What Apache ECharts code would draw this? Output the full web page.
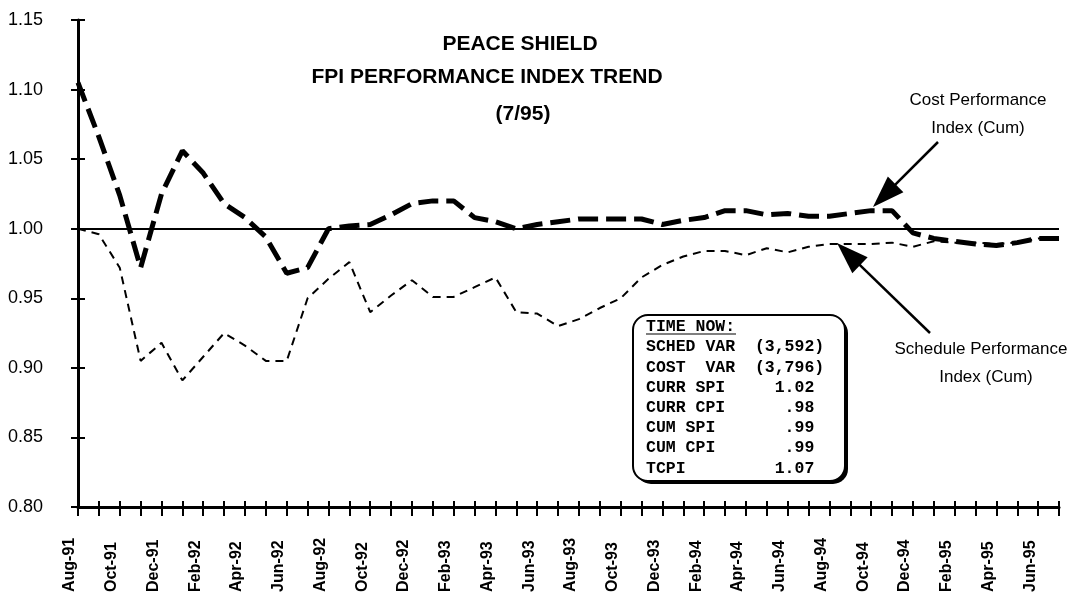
<!DOCTYPE html>
<html>
<head>
<meta charset="utf-8">
<script src="https://cdn.jsdelivr.net/npm/echarts@6.0.0/dist/echarts.min.js"></script>
<style>
  html, body { margin: 0; padding: 0; background: #fff; }
  #chart { width: 1073px; height: 601px; }
</style>
</head>
<body>
<div id="chart"></div>
<script>
const months = [
  'Aug-91', 'Sep-91', 'Oct-91', 'Nov-91', 'Dec-91',
  'Jan-92', 'Feb-92', 'Mar-92', 'Apr-92', 'May-92', 'Jun-92', 'Jul-92', 'Aug-92', 'Sep-92', 'Oct-92', 'Nov-92', 'Dec-92',
  'Jan-93', 'Feb-93', 'Mar-93', 'Apr-93', 'May-93', 'Jun-93', 'Jul-93', 'Aug-93', 'Sep-93', 'Oct-93', 'Nov-93', 'Dec-93',
  'Jan-94', 'Feb-94', 'Mar-94', 'Apr-94', 'May-94', 'Jun-94', 'Jul-94', 'Aug-94', 'Sep-94', 'Oct-94', 'Nov-94', 'Dec-94',
  'Jan-95', 'Feb-95', 'Mar-95', 'Apr-95', 'May-95', 'Jun-95', 'Jul-95'
]

// cost performance index (cum)
const cpiValues = [
  1.105, 1.066, 1.024, 0.972, 1.025,
  1.056, 1.040, 1.018, 1.008, 0.994, 0.968, 0.972, 1.000, 1.002, 1.003, 1.010, 1.018,
  1.020, 1.020, 1.008, 1.005, 1.000, 1.003, 1.005, 1.007, 1.007, 1.007, 1.007, 1.003,
  1.006, 1.008, 1.013, 1.013, 1.010, 1.011, 1.009, 1.009, 1.011, 1.013, 1.013, 0.997,
  0.993, 0.991, 0.989, 0.988, 0.990, 0.993, 0.993
]

// schedule performance index (cum)
const spiValues = [
  1.000, 0.996, 0.972, 0.905, 0.918,
  0.891, 0.908, 0.925, 0.916, 0.905, 0.905, 0.950, 0.964, 0.976, 0.940, 0.952, 0.963,
  0.951, 0.951, 0.958, 0.965, 0.940, 0.939, 0.930, 0.935, 0.943, 0.950, 0.965, 0.974,
  0.980, 0.984, 0.984, 0.981, 0.986, 0.983, 0.987, 0.989, 0.989, 0.989, 0.990, 0.987,
  0.991, 0.990, 0.990, 0.989, 0.990, 0.993, 0.994
]

const baseline = 1.0
const yMin = 0.8
const yMax = 1.15
const yStep = 0.05

const titleLines = ['PEACE SHIELD', 'FPI PERFORMANCE INDEX TREND', '(7/95)']
const cpiNote = ['Cost Performance', 'Index (Cum)']
const spiNote = ['Schedule Performance', 'Index (Cum)']
const boxLines = [
  'TIME NOW:',
  'SCHED VAR  (3,592)',
  'COST  VAR  (3,796)',
  'CURR SPI     1.02',
  'CURR CPI      .98',
  'CUM SPI       .99',
  'CUM CPI       .99',
  'TCPI         1.07'
]

const sans = 'Liberation Sans, Arial, sans-serif'
const mono = 'Liberation Mono, Courier New, monospace'
const black = '#000'

// straight shaft plus a filled head, tip at (x2, y2)
function arrow(x1, y1, x2, y2) {
  const dx = x2 - x1
  const dy = y2 - y1
  const len = Math.sqrt(dx * dx + dy * dy)
  const ux = dx / len
  const uy = dy / len
  const headLen = 32
  const half = 11
  const bx = x2 - ux * headLen
  const by = y2 - uy * headLen
  return [
    {
      type: 'line',
      shape: { x1: x1, y1: y1, x2: bx + ux * 4, y2: by + uy * 4 },
      style: { stroke: black, lineWidth: 2.5 }
    },
    {
      type: 'polygon',
      shape: { points: [[x2, y2], [bx - uy * half, by + ux * half], [bx + uy * half, by - ux * half]] },
      style: { fill: black }
    }
  ]
}

const textAt = (text, x, y, style) => ({
  type: 'text',
  x: x,
  y: y,
  style: Object.assign({ text: text, fill: black, align: 'center', verticalAlign: 'middle' }, style)
})

const titleFont = { font: 'bold 21px ' + sans }
const noteFont = { font: '17px ' + sans }

const graphics = [
  textAt(titleLines[0], 520, 44, titleFont),
  textAt(titleLines[1], 487, 77, titleFont),
  textAt(titleLines[2], 523, 114, titleFont),
  textAt(cpiNote[0], 978, 100, noteFont),
  textAt(cpiNote[1], 978, 128, noteFont),
  textAt(spiNote[0], 981, 349, noteFont),
  textAt(spiNote[1], 986, 377, noteFont),
  ...arrow(938, 142, 873, 207),
  ...arrow(930, 333, 837, 243),
  // heavy edge on the right and bottom of the box
  {
    type: 'rect',
    shape: { x: 636, y: 318, width: 212, height: 166, r: 15 },
    style: { fill: black }
  },
  {
    type: 'rect',
    shape: { x: 633, y: 315, width: 212, height: 166, r: 15 },
    style: { fill: '#fff', stroke: black, lineWidth: 2 }
  },
  {
    type: 'text',
    x: 646,
    y: 317,
    style: {
      text: boxLines.join('\n'),
      fill: black,
      font: 'bold 16.5px ' + mono,
      lineHeight: 20.2,
      align: 'left',
      verticalAlign: 'top'
    }
  },
  {
    type: 'line',
    shape: { x1: 646, y1: 334, x2: 736, y2: 334 },
    style: { stroke: black, lineWidth: 1.2 }
  }
]

const tickStyle = { color: black, width: 2 }

const options = {
  animation: false,
  backgroundColor: '#fff',
  grid: { left: 78, right: 14, top: 20, bottom: 94 },
  xAxis: [
    {
      type: 'category',
      data: months,
      boundaryGap: false,
      position: 'bottom',
      axisLine: { lineStyle: { color: black, width: 3 } },
      axisTick: { interval: 0, length: 9, lineStyle: tickStyle },
      axisLabel: {
        interval: 1,
        rotate: 90,
        align: 'left',
        verticalAlign: 'bottom',
        margin: 85,
        color: black,
        fontSize: 16,
        fontWeight: 'bold',
        fontFamily: sans
      },
      splitLine: { show: false }
    },
    {
      type: 'category',
      data: months,
      boundaryGap: false,
      position: 'bottom',
      axisLine: { show: false },
      axisTick: { inside: true, interval: 0, length: 6, lineStyle: tickStyle },
      axisLabel: { show: false },
      splitLine: { show: false }
    }
  ],
  yAxis: [
    {
      type: 'value',
      position: 'left',
      min: yMin,
      max: yMax,
      interval: yStep,
      axisLine: { show: true, lineStyle: { color: black, width: 3 } },
      axisTick: { show: true, length: 7, lineStyle: tickStyle },
      axisLabel: {
        formatter: v => v.toFixed(2),
        margin: 35,
        color: black,
        fontSize: 18,
        fontFamily: sans
      },
      splitLine: { show: false }
    },
    {
      type: 'value',
      position: 'left',
      min: yMin,
      max: yMax,
      interval: yStep,
      axisLine: { show: false },
      axisTick: { show: true, inside: true, length: 7, lineStyle: tickStyle },
      axisLabel: { show: false },
      splitLine: { show: false }
    }
  ],
  series: [
    {
      name: 'Schedule Performance Index (Cum)',
      type: 'line',
      data: spiValues,
      symbol: 'none',
      lineStyle: { color: black, width: 2, type: [8, 6] },
      markLine: {
        silent: true,
        symbol: 'none',
        label: { show: false },
        lineStyle: { color: black, width: 2, type: 'solid' },
        data: [{ yAxis: baseline }]
      }
    },
    {
      name: 'Cost Performance Index (Cum)',
      type: 'line',
      data: cpiValues,
      symbol: 'none',
      lineStyle: { color: black, width: 5, type: [20, 8] },
      z: 3
    }
  ],
  graphic: graphics
}

const chart = echarts.init(document.getElementById('chart'))
chart.setOption(options)
</script>
</body>
</html>
